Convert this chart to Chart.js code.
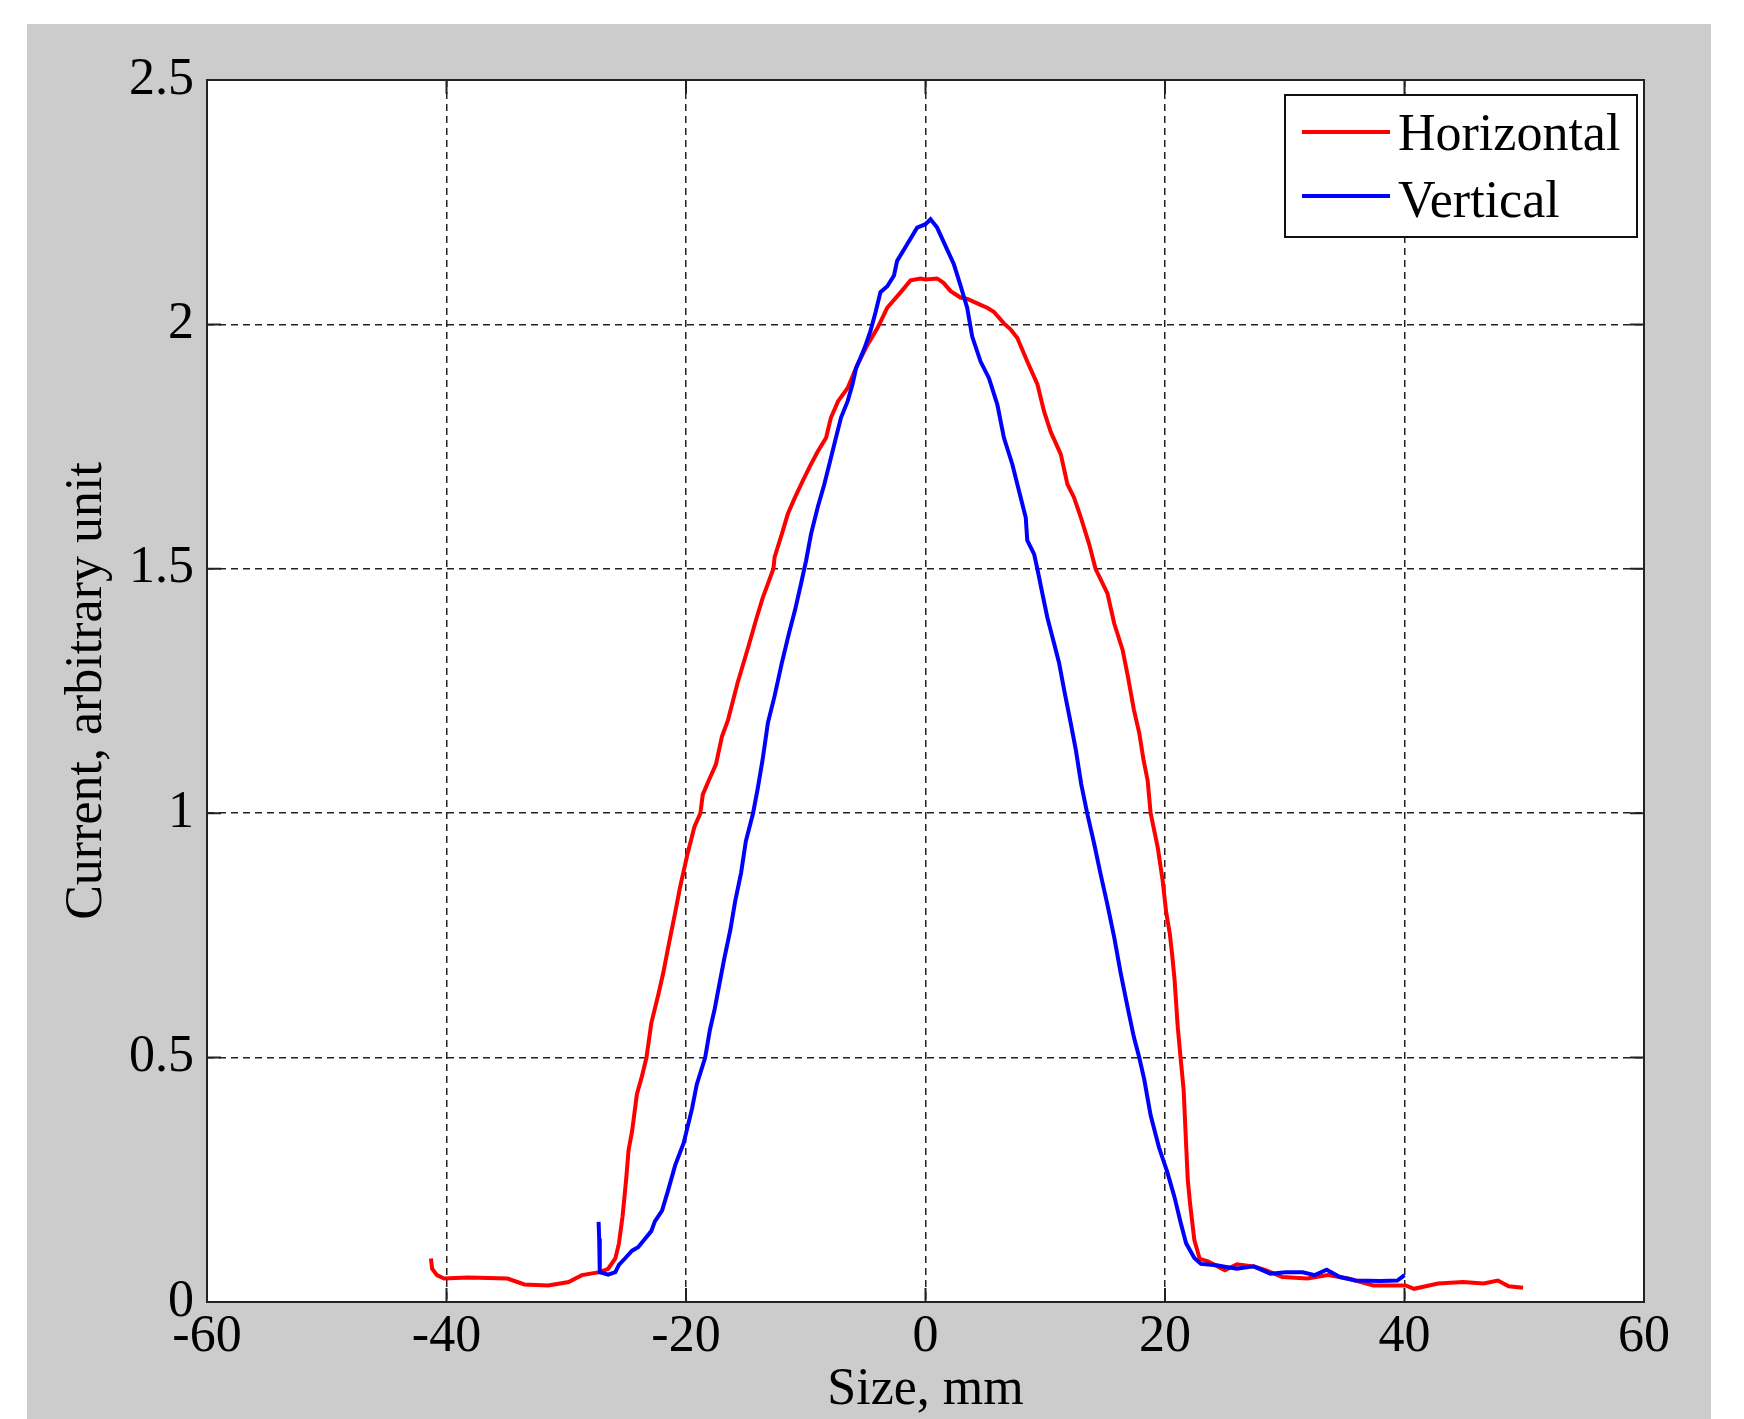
<!DOCTYPE html>
<html>
<head>
<meta charset="utf-8">
<title>Beam profile</title>
<script src="https://cdn.jsdelivr.net/npm/chart.js@4.4.1/dist/chart.umd.min.js"></script>
<style>
  html, body { margin: 0; padding: 0; background: #ffffff; }
  #wrap { width: 1744px; height: 1419px; }
</style>
</head>
<body>
<div id="wrap"><canvas id="chart" width="1744" height="1419"></canvas></div>
<script>
// Ticks
const xTicks = [-60, -40, -20, 0, 20, 40, 60];
const xTickLabels = ['-60', '-40', '-20', '0', '20', '40', '60'];
const yTicks = [0, 0.5, 1, 1.5, 2, 2.5];
const yTickLabels = ['0', '0.5', '1', '1.5', '2', '2.5'];

// Horizontal profile (red)
const horizX = [-41.3, -41.2, -40.8, -40.2, -38.2, -36.5, -34.9, -33.5, -31.5, -29.8, -28.7, -27.2, -26.5, -25.9,
  -25.6, -25.3, -25.0, -24.8, -24.5, -24.1, -23.7, -23.3, -22.9, -22.3, -21.9, -21.5, -20.9, -20.5, -19.9, -19.3,
  -18.8, -18.6, -18.1, -17.5, -17.0, -16.5, -15.7, -14.8, -14.1, -13.6, -12.7, -12.6, -12.0, -11.5, -10.9, -10.25,
  -9.56, -9.0, -8.3, -7.9, -7.3, -6.5, -5.7, -4.85, -4.0, -3.2, -2.1, -1.25, -0.42, 0, 0.97, 1.5, 2.1, 2.92, 3.5,
  4.04, 4.6, 5.15, 5.7, 6.55, 7.1, 7.67, 8.5, 9.35, 9.9, 10.46, 11.3, 11.85, 12.4, 12.97, 13.67, 14.2, 15.2, 15.76,
  16.46, 16.9, 17.4, 17.85, 18.2, 18.55, 18.8, 19.4, 19.8, 20.1, 20.4, 20.6, 20.8, 21.06, 21.3, 21.56, 21.76, 21.9,
  22.1, 22.45, 22.9, 23.6, 25.0, 26.0, 27.5, 28.4, 29.8, 31.9, 33.6, 35.3, 37.4, 40.1, 40.8, 42.8, 44.9, 46.6,
  47.8, 48.7, 49.9];
const horizY = [0.089, 0.068, 0.055, 0.048, 0.050, 0.049, 0.048, 0.036, 0.034, 0.041, 0.055, 0.061, 0.068, 0.089,
  0.12, 0.175, 0.25, 0.31, 0.35, 0.425, 0.46, 0.50, 0.57, 0.63, 0.673, 0.724, 0.797, 0.848, 0.914, 0.972,
  1.0, 1.038, 1.067, 1.10, 1.157, 1.19, 1.266, 1.34, 1.40, 1.44, 1.50, 1.524, 1.571, 1.612, 1.646, 1.68,
  1.714, 1.74, 1.768, 1.809, 1.843, 1.87, 1.917, 1.958, 1.993, 2.034, 2.065, 2.09, 2.094, 2.092, 2.094, 2.085, 2.068, 2.055, 2.052,
  2.046, 2.04, 2.034, 2.026, 2.002, 1.99, 1.972, 1.924, 1.877, 1.822, 1.78, 1.734, 1.673, 1.646, 1.605, 1.55, 1.50, 1.449, 1.388,
  1.334, 1.28, 1.212, 1.164, 1.11, 1.067, 1.0, 0.929, 0.863, 0.797, 0.754, 0.71, 0.659, 0.564, 0.50, 0.433, 0.324, 0.25,
  0.20, 0.127, 0.088, 0.083, 0.065, 0.077, 0.072, 0.065, 0.051, 0.048, 0.055, 0.048, 0.034, 0.034, 0.027, 0.038, 0.041, 0.038,
  0.044, 0.032, 0.029];

// Vertical profile (blue)
const vertX = [-27.3, -27.25, -27.2, -26.5, -25.9, -25.6, -25.1, -24.5, -24.0, -23.4, -22.9, -22.6, -22.0, -21.5,
  -20.9, -20.2, -19.5, -19.1, -18.4, -18.0, -17.6, -17.2, -16.8, -16.3, -15.9, -15.4, -15.0, -14.4, -14.0, -13.6,
  -13.16, -12.6, -12.0, -11.4, -10.9, -10.4, -9.97, -9.56, -9.0, -8.45, -8.03, -7.48, -7.06, -6.5, -6.1, -5.8, -5.1,
  -4.6, -4.16, -3.76, -3.19, -2.63, -2.37, -1.53, -0.7, 0, 0.42, 0.97, 1.81, 2.37, 2.92, 3.48, 3.9, 4.6, 5.3, 6.0,
  6.55, 7.25, 7.8, 8.37, 8.5, 9.07, 9.34, 9.76, 10.18, 10.74, 11.16, 11.58, 12.13, 12.55, 13.0, 13.5, 14.1, 14.6,
  15.2, 15.76, 16.3, 16.9, 17.4, 17.85, 18.27, 18.8, 19.5, 20.2, 20.8, 21.3, 21.76, 22.45, 23.0, 24.3, 25.0, 26.0,
  27.4, 28.8, 30.1, 31.5, 32.5, 33.5, 34.6, 35.9, 38.0, 39.4, 40.0];
const vertY = [0.164, 0.13, 0.061, 0.056, 0.061, 0.076, 0.089, 0.105, 0.112, 0.13, 0.145, 0.165, 0.187, 0.228,
  0.28, 0.325, 0.395, 0.445, 0.50, 0.557, 0.60, 0.652, 0.703, 0.761, 0.819, 0.878, 0.943, 1.0, 1.052, 1.11,
  1.185, 1.24, 1.307, 1.368, 1.415, 1.469, 1.517, 1.571, 1.626, 1.673, 1.714, 1.768, 1.809, 1.843, 1.877, 1.91, 1.951,
  1.986, 2.026, 2.066, 2.078, 2.10, 2.13, 2.164, 2.198, 2.205, 2.215, 2.198, 2.153, 2.123, 2.08, 2.034, 1.975, 1.924, 1.89, 1.836,
  1.768, 1.714, 1.66, 1.605, 1.558, 1.53, 1.50, 1.449, 1.40, 1.347, 1.307, 1.252, 1.184, 1.13, 1.06, 1.0, 0.936, 0.878,
  0.812, 0.746, 0.673, 0.60, 0.542, 0.50, 0.455, 0.382, 0.316, 0.265, 0.214, 0.163, 0.12, 0.09, 0.078, 0.075, 0.072, 0.068,
  0.073, 0.058, 0.061, 0.061, 0.055, 0.066, 0.051, 0.044, 0.043, 0.044, 0.055];

const toPoints = (xs, ys) => xs.map((x, i) => ({ x: x, y: ys[i] }));

const FONT = 'Liberation Serif, Times New Roman, serif';

function tickLabel(values, labels) {
  return value => {
    const i = values.findIndex(v => Math.abs(v - value) < 1e-9);
    return i >= 0 ? labels[i] : '';
  };
}

// Fond gris de la figure et zone blanche des axes
const backgroundPlugin = {
  id: 'background',
  beforeDraw(chart) {
    const { ctx, chartArea } = chart;
    ctx.save();
    ctx.fillStyle = '#cccccc';
    ctx.fillRect(27, 24, 1684, 1395);
    ctx.fillStyle = '#ffffff';
    ctx.fillRect(chartArea.left, chartArea.top, chartArea.right - chartArea.left, chartArea.bottom - chartArea.top);
    ctx.restore();
  }
};

// Boîte des axes, graduations internes et légende
const boxPlugin = {
  id: 'box',
  afterDraw(chart) {
    const { ctx, chartArea } = chart;
    const xs = chart.scales.x, ys = chart.scales.y;
    const tl = 14;
    ctx.save();
    ctx.strokeStyle = '#222222';
    ctx.lineWidth = 2;
    ctx.setLineDash([]);
    ctx.beginPath();
    xTicks.forEach(v => {
      const px = xs.getPixelForValue(v);
      ctx.moveTo(px, chartArea.bottom); ctx.lineTo(px, chartArea.bottom - tl);
      ctx.moveTo(px, chartArea.top); ctx.lineTo(px, chartArea.top + tl);
    });
    yTicks.forEach(v => {
      const py = ys.getPixelForValue(v);
      ctx.moveTo(chartArea.left, py); ctx.lineTo(chartArea.left + tl, py);
      ctx.moveTo(chartArea.right, py); ctx.lineTo(chartArea.right - tl, py);
    });
    ctx.stroke();
    ctx.strokeRect(chartArea.left, chartArea.top, chartArea.right - chartArea.left, chartArea.bottom - chartArea.top);

    // légende
    const lx = 1285, ly = 95, lw = 352, lh = 142;
    ctx.fillStyle = '#ffffff';
    ctx.fillRect(lx, ly, lw, lh);
    ctx.strokeStyle = '#111111';
    ctx.lineWidth = 2;
    ctx.strokeRect(lx, ly, lw, lh);
    const rows = [{ y: 132, base: 150 }, { y: 196, base: 217 }];
    chart.data.datasets.forEach((ds, i) => {
      ctx.strokeStyle = ds.borderColor;
      ctx.lineWidth = 4;
      ctx.beginPath();
      ctx.moveTo(1302, rows[i].y);
      ctx.lineTo(1390, rows[i].y);
      ctx.stroke();
      ctx.fillStyle = '#000000';
      ctx.font = '52px ' + FONT;
      ctx.textAlign = 'left';
      ctx.textBaseline = 'alphabetic';
      ctx.fillText(ds.label, 1398, rows[i].base);
    });
    ctx.restore();
  }
};

new Chart(document.getElementById('chart'), {
  type: 'line',
  data: {
    datasets: [
      {
        label: 'Horizontal',
        data: toPoints(horizX, horizY),
        borderColor: '#ff0000',
        borderWidth: 4,
        pointRadius: 0,
        tension: 0,
        order: 1
      },
      {
        label: 'Vertical',
        data: toPoints(vertX, vertY),
        borderColor: '#0000ff',
        borderWidth: 4,
        pointRadius: 0,
        tension: 0,
        order: 0
      }
    ]
  },
  options: {
    responsive: false,
    animation: false,
    devicePixelRatio: 1,
    layout: { padding: { left: 0, top: 80, right: 100, bottom: 0 } },
    plugins: { legend: { display: false }, tooltip: { enabled: false } },
    scales: {
      x: {
        type: 'linear',
        min: -60,
        max: 60,
        afterBuildTicks: scale => { scale.ticks = xTicks.map(v => ({ value: v })); },
        afterFit: scale => { scale.height = 117; },
        grid: { color: '#222222', lineWidth: 1.5, drawTicks: false },
        border: { display: false, dash: [7, 5] },
        ticks: {
          padding: 9,
          color: '#000000',
          maxRotation: 0,
          autoSkip: false,
          font: { family: FONT, size: 52, lineHeight: 1 },
          callback: tickLabel(xTicks, xTickLabels)
        },
        title: {
          display: true,
          text: 'Size, mm',
          color: '#000000',
          font: { family: FONT, size: 52, lineHeight: 1 },
          padding: { top: 0, bottom: 3 }
        }
      },
      y: {
        type: 'linear',
        min: 0,
        max: 2.5,
        afterBuildTicks: scale => { scale.ticks = yTicks.map(v => ({ value: v })); },
        afterFit: scale => { scale.width = 207; },
        grid: { color: '#222222', lineWidth: 1.5, drawTicks: false },
        border: { display: false, dash: [7, 5] },
        ticks: {
          padding: 13,
          color: '#000000',
          autoSkip: false,
          font: { family: FONT, size: 52, lineHeight: 1 },
          callback: tickLabel(yTicks, yTickLabels)
        },
        title: {
          display: true,
          text: 'Current, arbitrary unit',
          color: '#000000',
          font: { family: FONT, size: 52, lineHeight: 1 },
          padding: { top: 61, bottom: 0 }
        }
      }
    }
  },
  plugins: [backgroundPlugin, boxPlugin]
});
</script>
</body>
</html>
